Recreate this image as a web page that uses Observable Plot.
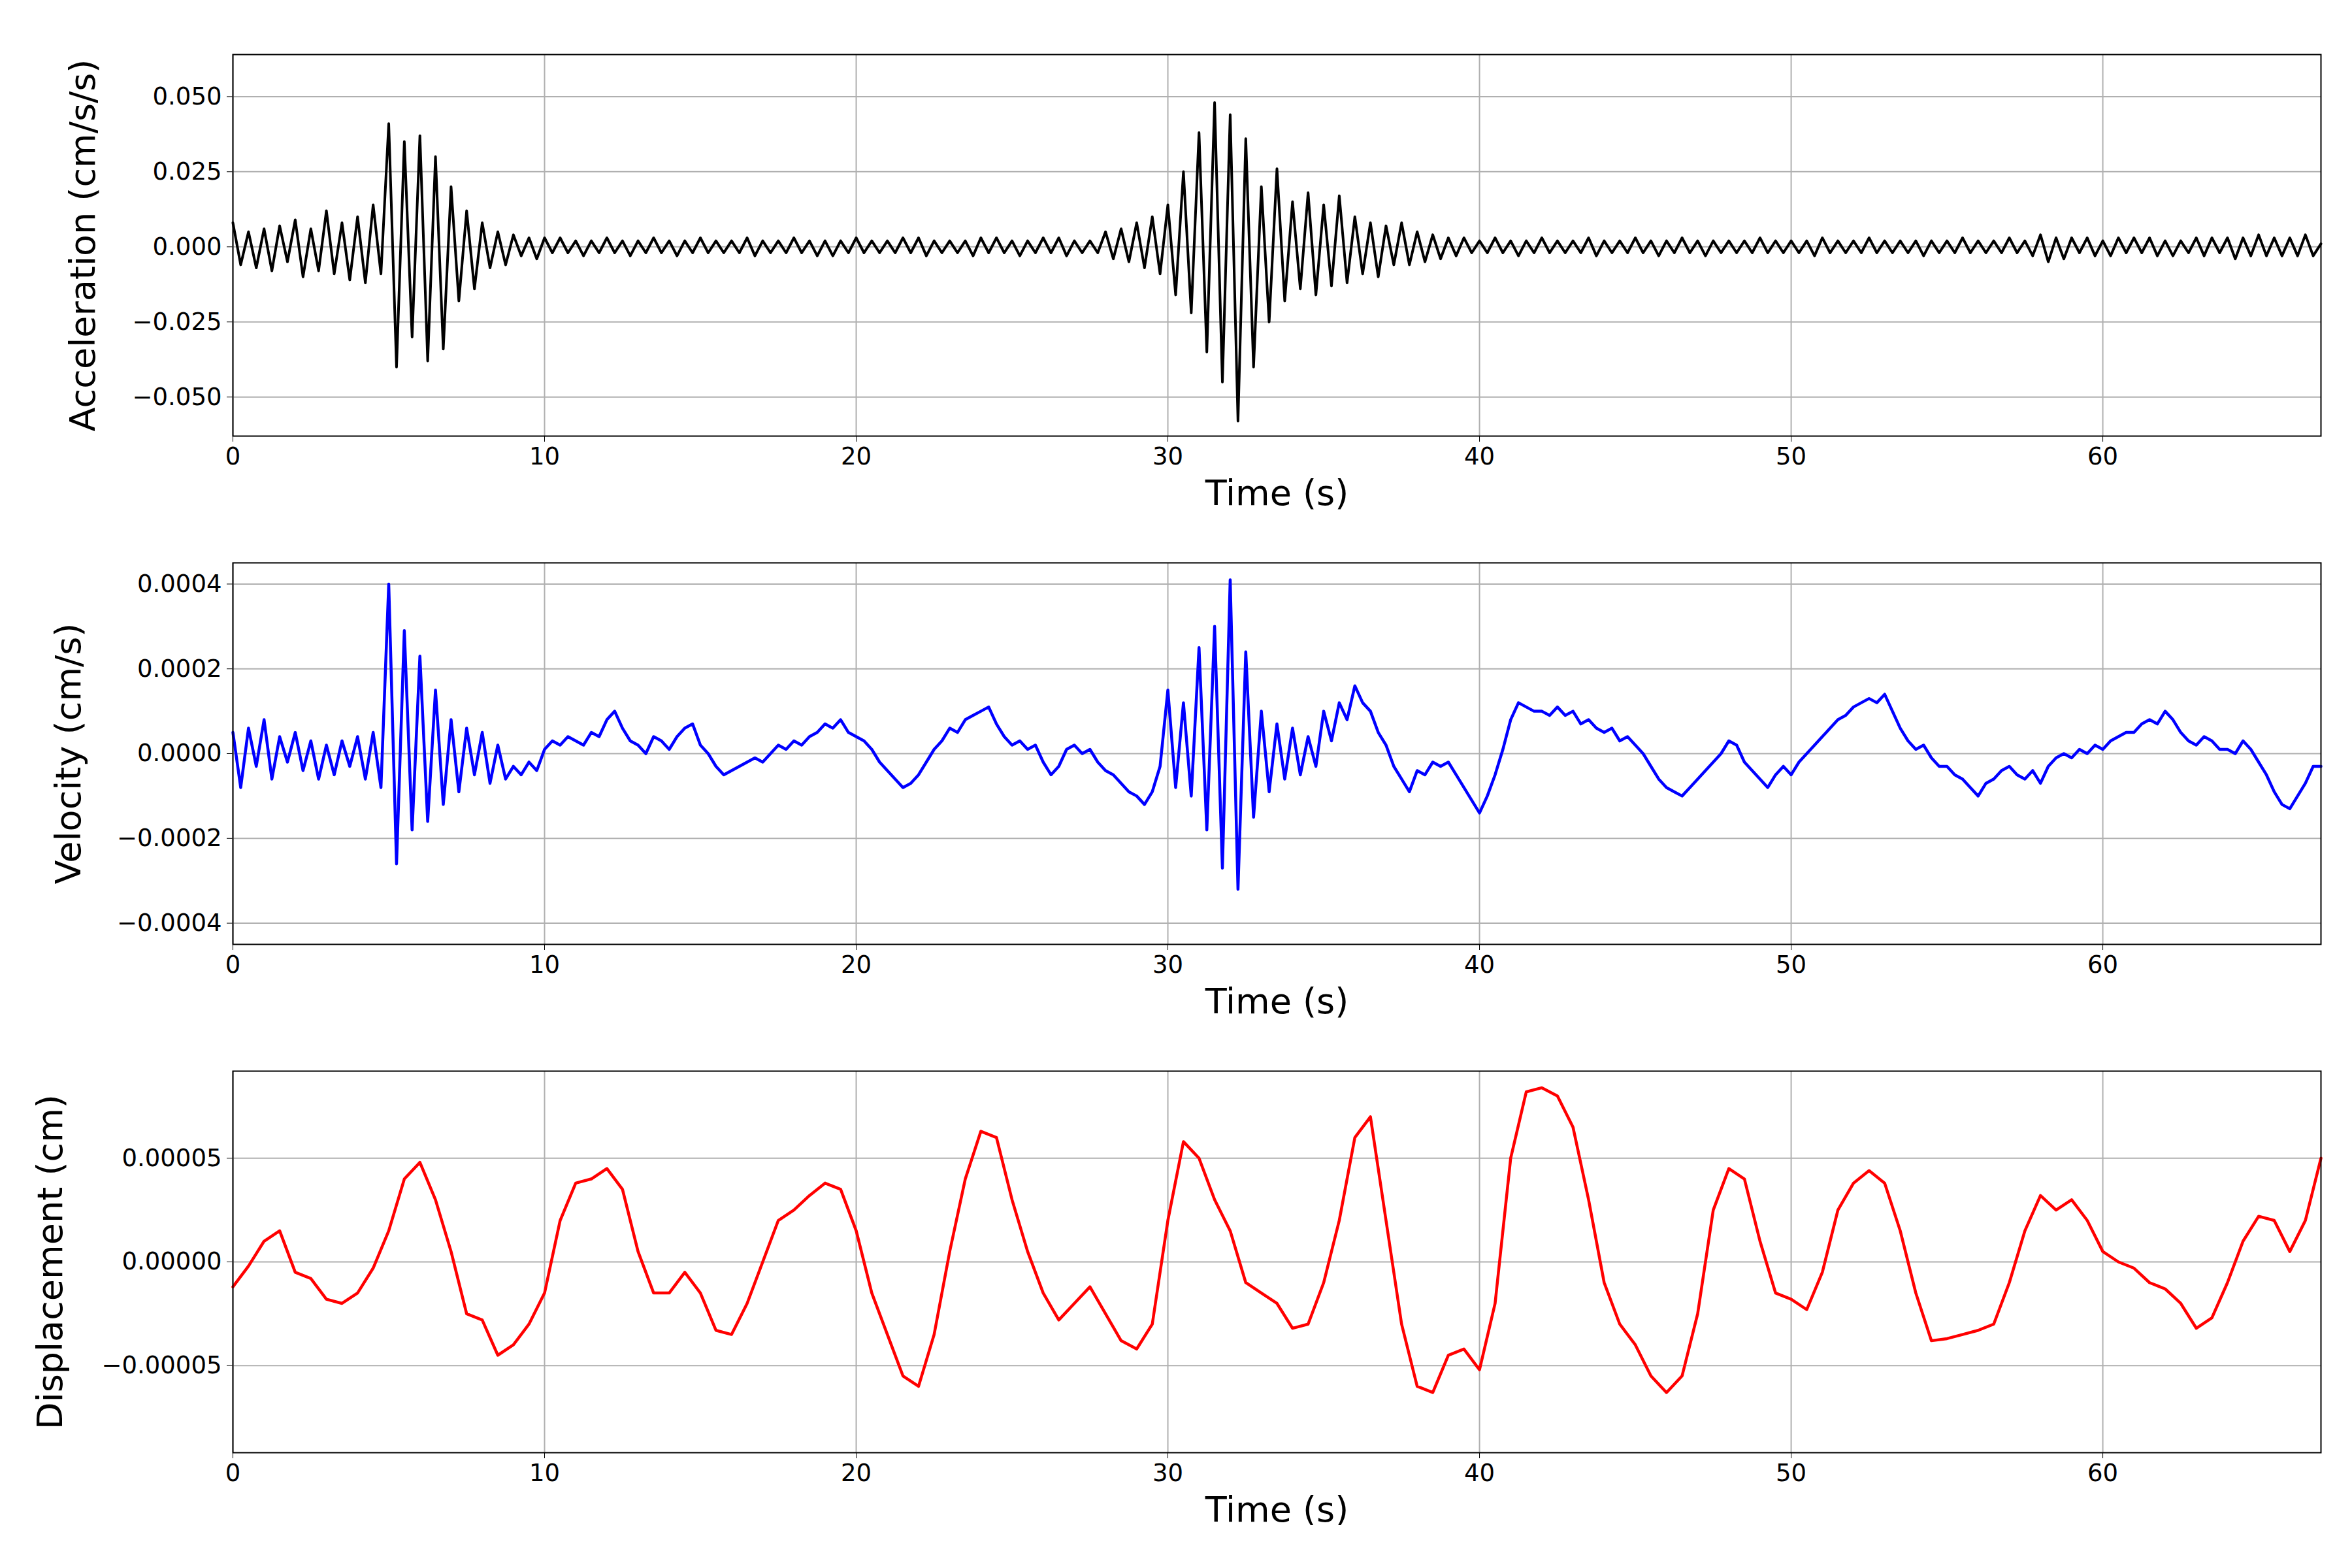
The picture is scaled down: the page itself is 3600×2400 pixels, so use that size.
<!DOCTYPE html>
<html><head><meta charset="utf-8">
<script src="https://cdn.jsdelivr.net/npm/d3@7"></script>
<script src="https://cdn.jsdelivr.net/npm/@observablehq/plot@0.6"></script>
<style>body{margin:0;background:#fff;font-family:"DejaVu Sans";} svg{display:block;overflow:visible}</style>
</head><body><div id="c"></div>
<script>
// Acceleration (x0.001 cm/s/s), every 0.25 s
const accMilli = [
8,-6,5,-7, 6,-8,7,-5, 9,-10,6,-8, 12,-9,8,-11, 10,-12,14,-9,
41,-40,35,-30, 37,-38,30,-34, 20,-18,12,-14, 8,-7,5,-6, 4,-3,3,-4,
3,-2,3,-2, 2,-3,2,-2, 3,-2,2,-3, 2,-2,3,-2, 2,-3,2,-2, 3,-2,2,-2, 2,-2,3,-3, 2,-2,2,-2, 3,-2,2,-3, 2,-3,2,-2,
3,-2,2,-2, 2,-2,3,-2, 3,-3,2,-2, 2,-2,2,-3, 3,-2,3,-2, 2,-3,2,-2, 3,-2,3,-3, 2,-2,2,-2,
5,-4,6,-5, 8,-7,10,-9, 14,-16,25,-22, 38,-35,48,-45, 44,-58,36,-40, 20,-25,26,-18,
15,-14,18,-16, 14,-13,17,-12, 10,-9,8,-10, 7,-6,8,-6, 5,-5,4,-4, 3,-3,3,-2,
2,-2,3,-2, 2,-3,2,-2, 3,-2,2,-2, 2,-2,3,-3, 2,-2,2,-2, 3,-2,2,-3, 2,-2,3,-2, 2,-3,2,-2, 2,-2,2,-2, 3,-2,2,-2,
2,-2,2,-3, 3,-2,2,-2, 2,-2,3,-2, 2,-2,2,-2, 2,-3,2,-2, 2,-2,3,-2, 2,-2,2,-2, 3,-2,2,-3, 4,-5,3,-4, 3,-2,3,-3,
2,-3,3,-2, 3,-2,3,-3, 2,-3,2,-2, 3,-3,3,-2, 3,-4,3,-3, 4,-3,3,-3, 3,-3,4,-3, 1];
// Velocity (x1e-4 cm/s), every 0.25 s
const velE4 = [
0.5,-0.8,0.6,-0.3, 0.8,-0.6,0.4,-0.2, 0.5,-0.4,0.3,-0.6, 0.2,-0.5,0.3,-0.3, 0.4,-0.6,0.5,-0.8,
4.0,-2.6,2.9,-1.8, 2.3,-1.6,1.5,-1.2, 0.8,-0.9,0.6,-0.5, 0.5,-0.7,0.2,-0.6, -0.3,-0.5,-0.2,-0.4,
0.1,0.3,0.2,0.4, 0.3,0.2,0.5,0.4, 0.8,1.0,0.6,0.3, 0.2,0.0,0.4,0.3, 0.1,0.4,0.6,0.7,
0.2,0.0,-0.3,-0.5, -0.4,-0.3,-0.2,-0.1, -0.2,0.0,0.2,0.1, 0.3,0.2,0.4,0.5, 0.7,0.6,0.8,0.5,
0.4,0.3,0.1,-0.2, -0.4,-0.6,-0.8,-0.7, -0.5,-0.2,0.1,0.3, 0.6,0.5,0.8,0.9, 1.0,1.1,0.7,0.4,
0.2,0.3,0.1,0.2, -0.2,-0.5,-0.3,0.1, 0.2,0.0,0.1,-0.2, -0.4,-0.5,-0.7,-0.9, -1.0,-1.2,-0.9,-0.3,
1.5,-0.8,1.2,-1.0, 2.5,-1.8,3.0,-2.7, 4.1,-3.2,2.4,-1.5, 1.0,-0.9,0.7,-0.6, 0.6,-0.5,0.4,-0.3,
1.0,0.3,1.2,0.8, 1.6,1.2,1.0,0.5, 0.2,-0.3,-0.6,-0.9, -0.4,-0.5,-0.2,-0.3, -0.2,-0.5,-0.8,-1.1,
-1.4,-1.0,-0.5,0.1, 0.8,1.2,1.1,1.0, 1.0,0.9,1.1,0.9, 1.0,0.7,0.8,0.6, 0.5,0.6,0.3,0.4,
0.2,0.0,-0.3,-0.6, -0.8,-0.9,-1.0,-0.8, -0.6,-0.4,-0.2,0.0, 0.3,0.2,-0.2,-0.4, -0.6,-0.8,-0.5,-0.3,
-0.5,-0.2,0.0,0.2, 0.4,0.6,0.8,0.9, 1.1,1.2,1.3,1.2, 1.4,1.0,0.6,0.3, 0.1,0.2,-0.1,-0.3,
-0.3,-0.5,-0.6,-0.8, -1.0,-0.7,-0.6,-0.4, -0.3,-0.5,-0.6,-0.4, -0.7,-0.3,-0.1,0.0, -0.1,0.1,0.0,0.2,
0.1,0.3,0.4,0.5, 0.5,0.7,0.8,0.7, 1.0,0.8,0.5,0.3, 0.2,0.4,0.3,0.1, 0.1,0.0,0.3,0.1,
-0.2,-0.5,-0.9,-1.2, -1.3,-1.0,-0.7,-0.3, -0.3];
// Displacement (x1e-5 cm), every 0.5 s
const dispE5 = [
-1.2,-0.2,1.0,1.5,-0.5,-0.8,-1.8,-2.0,-1.5,-0.3,1.5,4.0,4.8,3.0,0.5,-2.5,-2.8,-4.5,-4.0,-3.0,
-1.5,2.0,3.8,4.0,4.5,3.5,0.5,-1.5,-1.5,-0.5,-1.5,-3.3,-3.5,-2.0,0.0,2.0,2.5,3.2,3.8,3.5,
1.5,-1.5,-3.5,-5.5,-6.0,-3.5,0.5,4.0,6.3,6.0,3.0,0.5,-1.5,-2.8,-2.0,-1.2,-2.5,-3.8,-4.2,-3.0,
2.0,5.8,5.0,3.0,1.5,-1.0,-1.5,-2.0,-3.2,-3.0,-1.0,2.0,6.0,7.0,2.0,-3.0,-6.0,-6.3,-4.5,-4.2,
-5.2,-2.0,5.0,8.2,8.4,8.0,6.5,3.0,-1.0,-3.0,-4.0,-5.5,-6.3,-5.5,-2.5,2.5,4.5,4.0,1.0,-1.5,
-1.8,-2.3,-0.5,2.5,3.8,4.4,3.8,1.5,-1.5,-3.8,-3.7,-3.5,-3.3,-3.0,-1.0,1.5,3.2,2.5,3.0,2.0,
0.5,0.0,-0.3,-1.0,-1.3,-2.0,-3.2,-2.7,-1.0,1.0,2.2,2.0,0.5,2.0,5.0];
const xTicks = [0,10,20,30,40,50,60];

const acc = accMilli.map((v,i)=>({t:i*0.25, v:v*1e-3}));
const vel = velE4.map((v,i)=>({t:i*0.25, v:v*1e-4}));
const disp = dispE5.map((v,i)=>({t:i*0.5, v:v*1e-5}));

function panel(data, color, label, domain, ticks, fmt, sw, yoff){
  return Plot.plot({
    width:3600, height:778, marginLeft:356, marginRight:48, marginTop:83, marginBottom:111,
    style:{fontFamily:"DejaVu Sans", fontSize:"37px", color:"#000", background:"#fff"},
    x:{domain:[0,67], ticks:xTicks, tickFormat:d3.format("d"), label:"Time (s)", labelAnchor:"center", labelArrow:"none", labelOffset:105, tickSize:9, tickPadding:8},
    y:{domain, ticks, tickFormat:fmt, label, labelAnchor:"center", labelArrow:"none", labelOffset:yoff, tickSize:9, tickPadding:8},
    marks:[
      Plot.gridX(xTicks,{stroke:"#b0b0b0", strokeOpacity:1, strokeWidth:2}),
      Plot.gridY(ticks,{stroke:"#b0b0b0", strokeOpacity:1, strokeWidth:2}),
      Plot.line(data,{x:"t", y:"v", stroke:color, strokeWidth:sw}),
      Plot.frame({stroke:"#000", strokeWidth:2})
    ]
  });
}
const c = document.getElementById("c");
const p = [
 panel(acc,"#000","Acceleration (cm/s/s)",[-0.063,0.064],[-0.05,-0.025,0,0.025,0.05],d3.format(".3f"),4,250),
 panel(vel,"#0000ff","Velocity (cm/s)",[-0.00045,0.00045],[-0.0004,-0.0002,0,0.0002,0.0004],d3.format(".4f"),4.5,272),
 panel(disp,"#ff0000","Displacement (cm)",[-0.000092,0.000092],[-0.00005,0,0.00005],d3.format(".5f"),4.5,300)
];
p.forEach(s=>{
  s.querySelectorAll('[aria-label="x-axis label"], [aria-label="y-axis label"]').forEach(t=>t.style.fontSize="54px");
  c.appendChild(s);
});
</script></body></html>
